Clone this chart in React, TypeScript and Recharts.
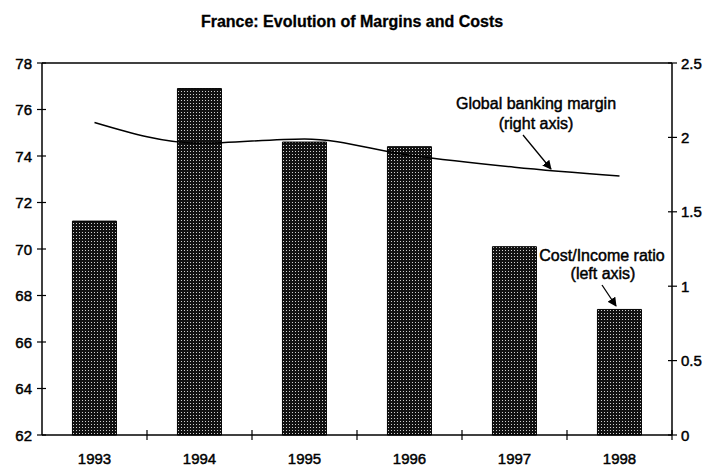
import { ComposedChart, Bar, Line, XAxis, YAxis, ReferenceLine } from "recharts";

const years = ["1993", "1994", "1995", "1996", "1997", "1998"];
const costIncomeRatio = [71.2, 76.9, 74.6, 74.4, 70.1, 67.4];
const bankingMargin = [2.1, 1.96, 1.99, 1.88, 1.8, 1.74];
const leftTicks = [62, 64, 66, 68, 70, 72, 74, 76, 78];
const rightTicks = [0, 0.5, 1, 1.5, 2, 2.5];

const W = 711;
const H = 466;
const PLOT_LEFT = 42;
const PLOT_RIGHT = 672;
const PLOT_TOP = 63;
const PLOT_BOTTOM = 435;
const FONT = "'Liberation Sans', Arial, sans-serif";

const data = years.map((year, i) => ({
  year,
  costIncome: costIncomeRatio[i],
  margin: bankingMargin[i],
}));

const step = (PLOT_RIGHT - PLOT_LEFT) / years.length;

// scanned-print look: a thin stroke thickens the regular text a bit
const textStyle = { fontSize: 15, fontFamily: FONT, fill: "#000", stroke: "#000", strokeWidth: 0.45 };

function XTick(props: any) {
  const { x, payload } = props;
  const bx = x + step / 2;
  return (
    <g>
      <line x1={bx} x2={bx} y1={PLOT_BOTTOM - 5} y2={PLOT_BOTTOM + 5} stroke="#000" strokeWidth={1.2} />
      <text x={x} y={458} textAnchor="middle" dominantBaseline="central" {...textStyle}>
        {payload.value}
      </text>
    </g>
  );
}

function LeftTick(props: any) {
  const { y, payload } = props;
  return (
    <g>
      <line x1={PLOT_LEFT - 5} x2={PLOT_LEFT + 4} y1={y} y2={y} stroke="#000" strokeWidth={1.2} />
      <text x={PLOT_LEFT - 10} y={y} textAnchor="end" dominantBaseline="central" {...textStyle}>
        {payload.value}
      </text>
    </g>
  );
}

function RightTick(props: any) {
  const { y, payload } = props;
  return (
    <g>
      <line x1={PLOT_RIGHT - 4} x2={PLOT_RIGHT + 5} y1={y} y2={y} stroke="#000" strokeWidth={1.2} />
      <text x={PLOT_RIGHT + 9} y={y} textAnchor="start" dominantBaseline="central" {...textStyle}>
        {payload.value}
      </text>
    </g>
  );
}

export default function App() {
  const note = { ...textStyle, fontSize: 16, textAnchor: "middle" as const, dominantBaseline: "central" as const };
  return (
    <div style={{ position: "absolute", left: 0, top: 0, width: W, height: H, background: "#fff" }}>
      <ComposedChart
        width={W}
        height={H}
        data={data}
        margin={{ top: PLOT_TOP, right: 0, bottom: 0, left: 0 }}
        barCategoryGap="29%"
      >
        <defs>
          <pattern id="dots" width={3} height={3} patternUnits="userSpaceOnUse">
            <rect width={3} height={3} fill="#111" />
            <rect x={1} y={1} width={1} height={1} fill="#cfcfcf" />
          </pattern>
        </defs>
        <XAxis
          dataKey="year"
          height={H - PLOT_BOTTOM}
          axisLine={{ stroke: "#000", strokeWidth: 1.5 }}
          tickLine={false}
          tick={<XTick />}
          interval={0}
        />
        <YAxis
          yAxisId="left"
          orientation="left"
          width={PLOT_LEFT}
          domain={[62, 78]}
          ticks={leftTicks}
          interval={0}
          axisLine={{ stroke: "#000", strokeWidth: 1.5 }}
          tickLine={false}
          tick={<LeftTick />}
        />
        <YAxis
          yAxisId="right"
          orientation="right"
          width={W - PLOT_RIGHT}
          domain={[0, 2.5]}
          ticks={rightTicks}
          interval={0}
          axisLine={{ stroke: "#000", strokeWidth: 1.5 }}
          tickLine={false}
          tick={<RightTick />}
        />
        <ReferenceLine yAxisId="left" y={78} stroke="#000" strokeWidth={1.5} />
        <Bar
          yAxisId="left"
          dataKey="costIncome"
          fill="url(#dots)"
          stroke="#000"
          strokeWidth={1}
          isAnimationActive={false}
        />
        <Line
          yAxisId="right"
          dataKey="margin"
          type="monotone"
          stroke="#000"
          strokeWidth={1.5}
          dot={false}
          isAnimationActive={false}
        />
      </ComposedChart>
      <svg
        width={W}
        height={H}
        style={{ position: "absolute", left: 0, top: 0, pointerEvents: "none" }}
        fontFamily={FONT}
      >
        <defs>
          <marker id="arrow" viewBox="0 0 10 10" refX={9} refY={5} markerWidth={7} markerHeight={7} orient="auto">
            <path d="M0,0 L10,5 L0,10 z" fill="#000" />
          </marker>
        </defs>
        <text
          x={352}
          y={21}
          textAnchor="middle"
          dominantBaseline="central"
          fontSize={16}
          fontWeight="bold"
          fill="#000"
          stroke="#000"
          strokeWidth={0.3}
        >
          France: Evolution of Margins and Costs
        </text>
        <text x={536} y={103} {...note}>
          Global banking margin
        </text>
        <text x={536} y={123} {...note}>
          (right axis)
        </text>
        <line x1={523} y1={135} x2={551} y2={169} stroke="#000" strokeWidth={1.3} markerEnd="url(#arrow)" />
        <text x={602} y={255} {...note}>
          Cost/Income ratio
        </text>
        <text x={603} y={273} {...note}>
          (left axis)
        </text>
        <line x1={602} y1={285} x2={616} y2={306} stroke="#000" strokeWidth={1.3} markerEnd="url(#arrow)" />
      </svg>
    </div>
  );
}
